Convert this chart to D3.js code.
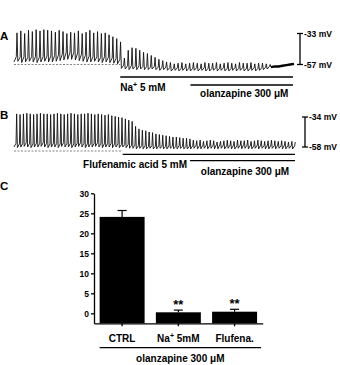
<!DOCTYPE html>
<html>
<head>
<meta charset="utf-8">
<script src="https://cdn.jsdelivr.net/npm/d3@7"></script>
<style>
	body{margin:0;background:#fff;}
	svg{display:block;font-family:Arial,"Liberation Sans",sans-serif;font-weight:bold;}
</style>
</head>
<body>
<svg id="fig" width="340" height="365"></svg>
<script>
// ---- values ----
// trace A, one value per firing cycle (mV): spike top, interspike level, trough
var aPeaks = [-32.5,-31,-33,-30.5,-31.5,-30,-31,-30,-30.5,-31,-32,-30.5,-31.5,-33,-32,-32.5,-31,-33,-32,-30.5,-32.5,-31.5,-33,-32.5,-34,-35.5,-37,-39.5,
	-52,-46,-44,-44.5,-46,-47.5,-48.5,-50,-51.5,-53,-54,-55,
	-55.5,-56.5,-56,-55.5,-56.5,-56,-55.5,-56,-56.5,-55.5,-56,-56,-55.5,-56.5,-56,-55.5,-56,-56.5,-55.5,-56,-56,-55.5,-56.5,-56,-56,-56.5,-57];
var aMids = [-51,-51.5,-51,-51.5,-51,-51,-51.5,-51,-50.5,-50.5,-50,-49.5,-49,-48,-47.5,-47.5,-48,-49,-50,-50.5,-51,-51,-51.5,-51,-51.5,-52,-52.5,-53,
	-57.5,-58,-58,-58.5,-58,-58.5,-58.5,-59,-58.5,-59,-59,-59,
	-59.5,-60,-59.5,-60,-59.5,-60,-60,-59.5,-60,-59.5,-60,-60,-59.5,-60,-59.5,-60,-60,-59.5,-60,-59.5,-60,-60,-59.5,-60,-59.5,-59,-58.5];
var aTroughs = [-55,-54.5,-55.5,-55,-54.5,-55,-55.5,-55,-54.5,-55,-55,-54.5,-54,-53.5,-53,-53,-53.5,-54,-54.5,-55,-55,-54.5,-55,-55.5,-55,-55.5,-56,-56.5,
	-60,-60.5,-61,-60.5,-61,-60.5,-61,-61,-60.5,-61,-61.5,-61,
	-61.5,-62,-61.5,-62,-61.5,-62,-62,-61.5,-62,-61.5,-62,-62,-61.5,-62,-61.5,-62,-62,-61.5,-62,-61.5,-62,-62,-61.5,-62,-61.5,-61,-60.5];
var aTail = [-59,-58.5,-58.5,-58,-57.5,-57,-56.5];   // silent stretch at the end
var aBar = [-33, -57];
var aRest = -57;
var aDrugs = ["Na+ 5 mM", "olanzapine 300 μM"];
var aDrugStart = [27.7, 46];

// trace B
var bPeaks = [-31.5,-32,-31.5,-31,-31.5,-32,-31.5,-31,-31.5,-31.5,-32,-31.5,-31,-31.5,-32,-31.5,-31,-31.5,-32,-31.5,-31.5,-31,-31.5,-32,-31.5,-32,-32.5,-32,-33,-33.5,-34,-34.5,-35.5,-36.5,-37.5,
	-41.5,-43.5,-44.5,-45,-46,-46.5,-47.5,-48,-48.5,-49,-49.5,-50,-50,-50.5,-51,-51,-51.5,
	-52.5,-53,-52.5,-53.5,-53,-52.5,-53,-54,-53.5,-53,-52.5,-53,-53.5,-52.5,-53,-53,-52.5,-53.5,-53,-52.5,-53,-53.5,-53,-52.5,-53,-53.5,-53,-53.5,-54,-53.5,-54];
var bMids = [-55,-55.5,-55,-54.5,-55,-55.5,-55,-55,-54.5,-55,-55.5,-55,-55,-55.5,-54.5,-55,-55,-55.5,-55,-54.5,-55,-55.5,-55,-55,-54.5,-55,-55.5,-55,-55,-55.5,-55.5,-56,-56,-56,-56.5,
	-56.5,-57,-57,-57,-57.5,-57,-57.5,-57,-57.5,-57.5,-57,-57.5,-57.5,-57,-57.5,-57.5,-57.5,
	-57,-56.5,-57,-56.5,-56.5,-57,-56.5,-56,-56,-56.5,-57,-56.5,-56.5,-57,-56.5,-56,-56.5,-56.5,-57,-56.5,-56.5,-57,-56.5,-56.5,-57,-56.5,-57,-56.5,-57,-57,-57];
var bTroughs = [-58,-58.5,-58,-57.5,-58,-58.5,-58,-58,-57.5,-58,-58.5,-58,-58,-58.5,-57.5,-58,-58,-58.5,-58,-57.5,-58,-58.5,-58,-58,-57.5,-58,-58.5,-58,-58,-58.5,-58,-58.5,-58,-58.5,-59,
	-59,-59.5,-59,-59.5,-59.5,-59,-59.5,-59.5,-59,-59.5,-59.5,-59,-59.5,-59.5,-59,-59.5,-59.5,
	-59.5,-59,-59.5,-59.5,-59,-59.5,-59,-59.5,-59.5,-59,-59.5,-59,-59.5,-59.5,-59,-59.5,-59,-59.5,-59.5,-59,-59.5,-59,-59.5,-59.5,-59,-59.5,-59,-59.5,-59.5,-59,-59.5];
var bTail = [];
var bBar = [-34, -58];
var bRest = -61.2;
var bDrugs = ["Flufenamic acid 5 mM", "olanzapine 300 μM"];
var bDrugStart = [32, 51.8];

// panel C bar chart
var cCats = ["CTRL", "Na+ 5mM", "Flufena."];
var cMeans = [24.1, 0.25, 0.4];
var cSems = [1.6, 0.55, 0.6];
var cStars = ["", "**", "**"];
var cTicks = [0, 5, 10, 15, 20, 25, 30];
var cGroup = "olanzapine 300 μM";

var svg = d3.select("#fig");

function label(sel, str){
	// writes "Na+" with a raised plus, everything else plain
	var i = str.indexOf("+");
	if (i < 0) { sel.text(str); return sel; }
	sel.append("tspan").text(str.slice(0, i));
	sel.append("tspan").attr("font-size", "0.7em").attr("dy", -4).text("+");
	sel.append("tspan").attr("dy", 4).text(str.slice(i + 1));
	return sel;
}

function panelLetter(t, yy){
	svg.append("text").attr("x", 0).attr("y", yy)
		.attr("font-size", 11.5).text(t);
}

function drawTrace(c){
	var n = c.peaks.length;
	var total = n + Math.max(c.tail.length - 1, 0);
	var x = d3.scaleLinear().domain([0, total]).range([14, c.right]);
	var y = d3.scaleLinear().domain(c.bar).range([c.barTop, c.barBottom]);
	var g = svg.append("g");

	// rest level
	g.append("line")
		.attr("x1", x(0)).attr("x2", x(c.drugStart[0]))
		.attr("y1", y(c.rest)).attr("y2", y(c.rest))
		.attr("stroke", "#666").attr("stroke-width", 0.8)
		.attr("stroke-dasharray", "2,1.5");

	var pts = [];
	for (var i = 0; i < n; i++) {
		pts.push([i, c.troughs[i]]);
		pts.push([i + 0.6, c.mids[i]]);
		pts.push([i + 0.78, c.peaks[i]]);
	}
	if (c.tail.length) pts.push([n, c.tail[0]]);
	var line = d3.line().x(function(d){ return x(d[0]); }).y(function(d){ return y(d[1]); });
	g.append("path").attr("d", line(pts))
		.attr("fill", "none").attr("stroke", "#111")
		.attr("stroke-width", 0.9).attr("stroke-linejoin", "round");

	if (c.tail.length) {
		var tp = c.tail.map(function(v, j){ return [n + j, v]; });
		g.append("path").attr("d", line(tp))
			.attr("fill", "none").attr("stroke", "#000").attr("stroke-width", 2.4);
	}

	// scale bar
	var bx = c.barX;
	g.append("line").attr("x1", bx).attr("x2", bx)
		.attr("y1", y(c.bar[0])).attr("y2", y(c.bar[1]))
		.attr("stroke", "#000").attr("stroke-width", 1.3);
	c.bar.forEach(function(v){
		g.append("line").attr("x1", bx - 3).attr("x2", bx + 3)
			.attr("y1", y(v)).attr("y2", y(v))
			.attr("stroke", "#000").attr("stroke-width", 1.3);
		g.append("text").attr("x", bx + 4).attr("y", y(v) + 3)
			.attr("font-size", 8.5).text(v + " mV");
	});

	// drug application bars
	c.drugStart.forEach(function(s, k){
		var ly = c.lineY[k];
		g.append("line").attr("x1", x(s)).attr("x2", x(total) - 1)
			.attr("y1", ly).attr("y2", ly)
			.attr("stroke", "#000").attr("stroke-width", 1.3);
		var t = g.append("text").attr("font-size", 10).attr("y", c.textY[k]);
		if (k === 0 && c.firstAnchor === "start") {
			t.attr("x", x(s)).attr("text-anchor", "start");
		} else if (k === 0) {
			t.attr("x", x(c.drugStart[1]) - 3).attr("text-anchor", "end");
		} else {
			t.attr("x", (x(s) + x(total)) / 2 + 2).attr("text-anchor", "middle");
		}
		label(t, c.drugs[k]);
	});
}

panelLetter("A", 40);
drawTrace({peaks: aPeaks, mids: aMids, troughs: aTroughs, tail: aTail, bar: aBar, rest: aRest,
	drugs: aDrugs, drugStart: aDrugStart, right: 294, barTop: 33.5, barBottom: 64.5, barX: 300,
	lineY: [77, 85], textY: [90.5, 97], firstAnchor: "start"});

panelLetter("B", 119);
drawTrace({peaks: bPeaks, mids: bMids, troughs: bTroughs, tail: bTail, bar: bBar, rest: bRest,
	drugs: bDrugs, drugStart: bDrugStart, right: 296, barTop: 117, barBottom: 147, barX: 305,
	lineY: [154.3, 160.7], textY: [168.3, 175], firstAnchor: "end"});

// ---- panel C ----
panelLetter("C", 190);
var x = d3.scaleBand().domain(cCats).range([94, 262.7]).paddingInner(0.2).paddingOuter(0.1);
var y = d3.scaleLinear().domain([-2.5, 30]).range([323.3, 193.3]);
var gc = svg.append("g");

gc.selectAll(".bar").data(cCats).enter().append("rect")
	.attr("class", "bar")
	.attr("x", function(d){ return x(d); })
	.attr("width", x.bandwidth())
	.attr("y", function(d, i){ return y(cMeans[i]); })
	.attr("height", function(d, i){ return y(-2.5) - y(cMeans[i]); })
	.attr("fill", "#000");

cCats.forEach(function(d, i){
	var cx = x(d) + x.bandwidth() / 2;
	var top = y(cMeans[i] + cSems[i]);
	gc.append("line").attr("x1", cx).attr("x2", cx)
		.attr("y1", y(cMeans[i])).attr("y2", top)
		.attr("stroke", "#000").attr("stroke-width", 1.2);
	gc.append("line").attr("x1", cx - 4.5).attr("x2", cx + 4.5)
		.attr("y1", top).attr("y2", top)
		.attr("stroke", "#000").attr("stroke-width", 1.2);
	if (cStars[i]) {
		gc.append("text").attr("x", cx).attr("y", top - 1)
			.attr("text-anchor", "middle").attr("font-size", 13).text(cStars[i]);
	}
	label(gc.append("text").attr("x", cx).attr("y", 341.5)
		.attr("text-anchor", "middle").attr("font-size", 10), d);
});

var yAxis = gc.append("g").attr("transform", "translate(94,0)")
	.call(d3.axisLeft(y).tickValues(cTicks).tickSize(3).tickSizeOuter(0).tickPadding(2));
var xAxis = gc.append("g").attr("transform", "translate(0,323.3)")
	.call(d3.axisBottom(x).tickSize(3).tickSizeOuter(0).tickFormat(""));
[yAxis, xAxis].forEach(function(a){
	a.selectAll("path,line").attr("stroke", "#000").attr("stroke-width", 1.3);
	a.selectAll("text").attr("font-size", 8.5).attr("font-weight", "bold")
		.attr("font-family", "Arial, 'Liberation Sans', sans-serif").attr("fill", "#000");
});

var gx0 = x(cCats[0]), gx1 = 261;
gc.append("line").attr("x1", gx0).attr("x2", gx1).attr("y1", 347.7).attr("y2", 347.7)
	.attr("stroke", "#000").attr("stroke-width", 1.3);
gc.append("text").attr("x", (gx0 + gx1) / 2).attr("y", 361.5)
	.attr("text-anchor", "middle").attr("font-size", 10).text(cGroup);
</script>
</body>
</html>
